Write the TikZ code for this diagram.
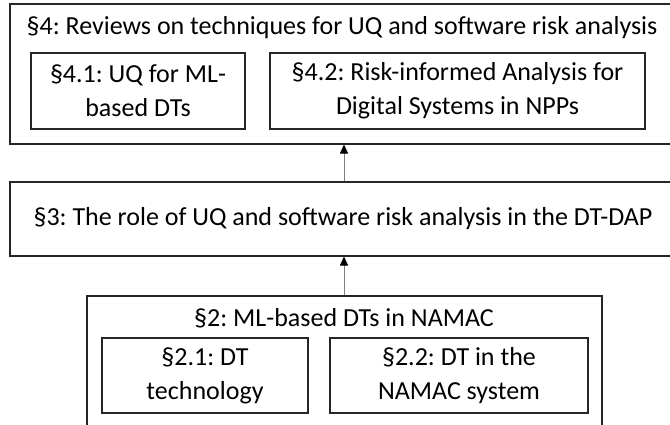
\documentclass[tikz,border=0pt]{standalone}
\usepackage{fontspec}
\setmainfont{Carlito}
\frenchspacing
\usetikzlibrary{arrows.meta}
\begin{document}
\begin{tikzpicture}[x=1pt,y=-1pt,
  box/.style={draw=black!85, line width=1.1pt, inner sep=0pt},
  txt/.style={font=\fontsize{26}{34}\selectfont, align=center, inner sep=0pt, text=black},
  arr/.style={draw=black!50, line width=1pt, -{Triangle[length=9pt,width=8pt,color=black]}}]
\useasboundingbox (0,0) rectangle (670,425);
\clip (0,0) rectangle (670,425);
% section 4
\node[box, minimum width=666pt, minimum height=140pt] (s4) at (343,74) {};
\node[txt, anchor=base] (s4t) at (342,35) {§4: Reviews on techniques for UQ and software risk analysis};
\node[box, txt, minimum width=214pt, minimum height=76pt] (s41) at (138,91) {§4.1: UQ for ML-\\based DTs};
\node[box, txt, minimum width=375pt, minimum height=76pt] (s42) at (457.5,91) {§4.2: Risk-informed Analysis for\\Digital Systems in NPPs};
% section 3
\node[box, txt, minimum width=666pt, minimum height=74pt] (s3) at (343,219) {§3: The role of UQ and software risk analysis in the DT-DAP};
% section 2
\node[box, minimum width=515pt, minimum height=144pt] (s2) at (344.5,368) {};
\node[txt] (s2t) at (344,318) {§2: ML-based DTs in NAMAC};
\node[box, txt, minimum width=206pt, minimum height=75pt] (s21) at (205,375.5) {§2.1: DT\\technology};
\node[box, txt, minimum width=258pt, minimum height=75pt] (s22) at (459,375.5) {§2.2: DT in the\\NAMAC system};
% arrows
\coordinate (ax) at (344,0);
\draw[arr] (s3.north -| ax) -- (s4.south -| ax);
\draw[arr] (s2.north -| ax) -- (s3.south -| ax);
\end{tikzpicture}
\end{document}
